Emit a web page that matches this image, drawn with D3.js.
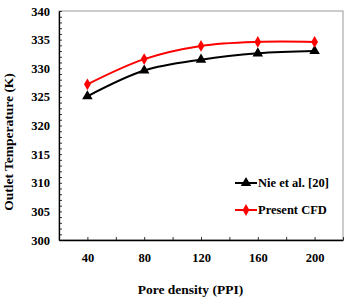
<!DOCTYPE html>
<html>
<head>
<meta charset="utf-8">
<script src="https://cdn.jsdelivr.net/npm/d3@7"></script>
<style>
  body { margin: 0; background: #fff; }
</style>
</head>
<body>
<svg id="chart" width="350" height="299"></svg>
<script>
var poreDensity = [40, 80, 120, 160, 200];
var nieValues = [325.1, 329.6, 331.5, 332.6, 333.0];
var cfdValues = [327.2, 331.6, 333.9, 334.6, 334.6];
var xTicks = [40, 80, 120, 160, 200];
var yTicks = [300, 305, 310, 315, 320, 325, 330, 335, 340];

var serif = "'Liberation Serif', 'Times New Roman', serif";

var margin = {top: 11, right: 7, bottom: 59, left: 59},
    width = 350 - margin.left - margin.right,
    height = 299 - margin.top - margin.bottom;

var svg = d3.select("#chart")
    .append("g")
    .attr("transform", "translate(" + margin.left + "," + margin.top + ")");

var x = d3.scaleLinear().domain([20, 220]).range([0, width]);
var y = d3.scaleLinear().domain([300, 340]).range([height, 0]);

// grey frame
svg.append("rect")
    .attr("x", 0).attr("y", 0)
    .attr("width", width).attr("height", height)
    .style("fill", "none")
    .style("stroke", "#999")
    .style("stroke-width", 1);

// y axis: minor ticks every 1 K, inside
var yMinor = svg.append("g")
    .call(d3.axisRight(y).tickValues(d3.range(300, 341, 1)).tickSize(3).tickFormat(""));
yMinor.select(".domain").remove();
yMinor.selectAll("line").style("stroke", "#333");

var yAxis = svg.append("g")
    .call(d3.axisLeft(y).tickValues(yTicks).tickSize(0).tickPadding(9));
yAxis.select(".domain").style("stroke", "#000").style("stroke-width", 1.3);
yAxis.selectAll("text")
    .style("font-family", serif).style("font-weight", "bold")
    .style("font-size", "12.5px").style("fill", "#000");

// x axis: ticks every 20, inside
var xMinor = svg.append("g")
    .attr("transform", "translate(0," + height + ")")
    .call(d3.axisTop(x).tickValues(d3.range(40, 221, 20)).tickSize(3).tickFormat(""));
xMinor.select(".domain").remove();
xMinor.selectAll("line").style("stroke", "#333");

var xAxis = svg.append("g")
    .attr("transform", "translate(0," + height + ")")
    .call(d3.axisBottom(x).tickValues(xTicks).tickSize(0).tickPadding(13));
xAxis.select(".domain").style("stroke", "#000").style("stroke-width", 1.3);
xAxis.selectAll("text")
    .style("font-family", serif).style("font-weight", "bold")
    .style("font-size", "12.5px").style("fill", "#000");

var line = d3.line()
    .x(function(d) { return x(d[0]); })
    .y(function(d) { return y(d[1]); })
    .curve(d3.curveCatmullRom.alpha(0.5));

var nieData = poreDensity.map(function(p, i) { return [p, nieValues[i]]; });
var cfdData = poreDensity.map(function(p, i) { return [p, cfdValues[i]]; });

var triangle = d3.symbol().type(d3.symbolTriangle).size(48);
var diamond = d3.symbol().type(d3.symbolDiamond).size(40);

svg.append("path")
    .datum(nieData)
    .attr("d", line)
    .style("fill", "none")
    .style("stroke", "#000")
    .style("stroke-width", 2);

svg.selectAll(".nie")
    .data(nieData)
    .enter()
    .append("path")
    .attr("class", "nie")
    .attr("transform", function(d) { return "translate(" + x(d[0]) + "," + y(d[1]) + ")"; })
    .attr("d", triangle)
    .style("fill", "#000");

svg.append("path")
    .datum(cfdData)
    .attr("d", line)
    .style("fill", "none")
    .style("stroke", "#ff0000")
    .style("stroke-width", 2);

svg.selectAll(".cfd")
    .data(cfdData)
    .enter()
    .append("path")
    .attr("class", "cfd")
    .attr("transform", function(d) { return "translate(" + x(d[0]) + "," + y(d[1]) + ")"; })
    .attr("d", diamond)
    .style("fill", "#ff0000");

// legend
var legend = [
    {name: "Nie et al. [20]", color: "#000", sym: triangle},
    {name: "Present CFD", color: "#ff0000", sym: diamond}
];
legend.forEach(function(l, i) {
    var ly = 172 + i * 27;
    svg.append("line")
        .attr("x1", 176).attr("x2", 198)
        .attr("y1", ly).attr("y2", ly)
        .style("stroke", l.color)
        .style("stroke-width", 2);
    svg.append("path")
        .attr("transform", "translate(187," + ly + ")")
        .attr("d", l.sym)
        .style("fill", l.color);
    svg.append("text")
        .attr("x", 199)
        .attr("y", ly)
        .attr("dy", "0.35em")
        .style("font-family", serif).style("font-weight", "bold")
        .style("font-size", "12.5px")
        .text(l.name);
});

// axis titles
svg.append("text")
    .attr("x", width / 2 - 10.5)
    .attr("y", height + 54)
    .style("text-anchor", "middle")
    .style("font-family", serif).style("font-weight", "bold")
    .style("font-size", "13.5px")
    .text("Pore density (PPI)");

svg.append("text")
    .attr("transform", "rotate(-90)")
    .attr("x", -131)
    .attr("y", -46)
    .style("text-anchor", "middle")
    .style("font-family", serif).style("font-weight", "bold")
    .style("font-size", "13.5px")
    .text("Outlet Temperature (K)");
</script>
</body>
</html>
